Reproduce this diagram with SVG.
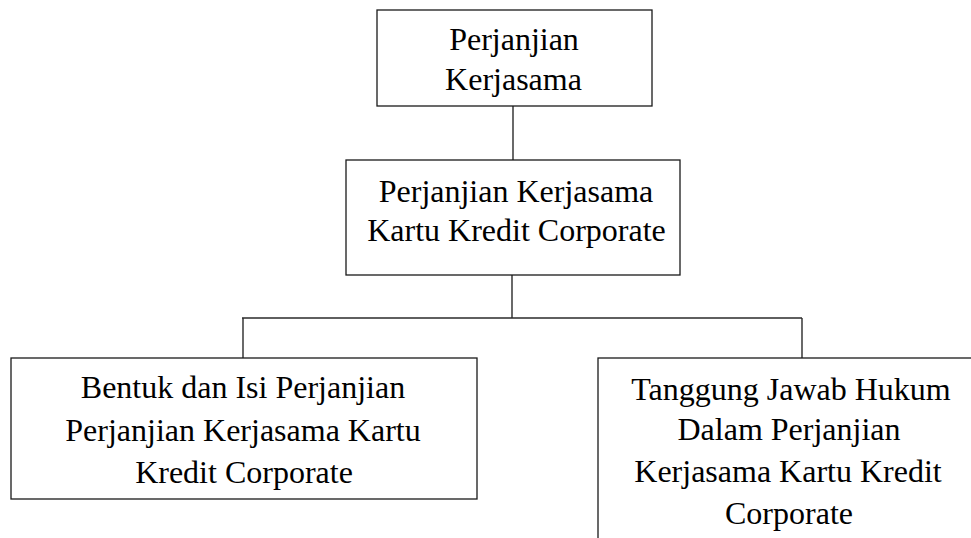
<svg xmlns="http://www.w3.org/2000/svg" width="971" height="538" viewBox="0 0 971 538">
<style>
.box{fill:#fff;stroke:#1a1a1a;stroke-width:1.3}
.ln{stroke:#2a2a2a;stroke-width:1.4;fill:none}
text{font-family:"Liberation Serif","Times New Roman",serif;font-size:32px;fill:#000;text-anchor:middle}
</style>
<rect width="971" height="538" fill="#fff"/>
<g id="connectors">
<line class="ln" x1="513" y1="106" x2="513" y2="160"/>
<line class="ln" x1="512" y1="275" x2="512" y2="318"/>
<line class="ln" x1="242" y1="318" x2="802" y2="318"/>
<line class="ln" x1="243" y1="318" x2="243" y2="358"/>
<line class="ln" x1="802" y1="318" x2="802" y2="358"/>
</g>
<g id="node-top">
<rect class="box" x="377" y="10" width="275" height="96"/>
<text x="514" y="50">Perjanjian</text>
<text x="513.5" y="90">Kerjasama</text>
</g>
<g id="node-mid">
<rect class="box" x="346" y="160" width="334" height="115"/>
<text x="516" y="202">Perjanjian Kerjasama</text>
<text x="516.5" y="241">Kartu Kredit Corporate</text>
</g>
<g id="node-left">
<rect class="box" x="11" y="358" width="466" height="141"/>
<text x="243" y="398">Bentuk dan Isi Perjanjian</text>
<text x="243" y="441">Perjanjian Kerjasama Kartu</text>
<text x="244" y="483">Kredit Corporate</text>
</g>
<g id="node-right">
<rect class="box" x="598" y="358" width="400" height="200"/>
<text x="791" y="400">Tanggung Jawab Hukum</text>
<text x="789" y="440">Dalam Perjanjian</text>
<text x="788" y="482">Kerjasama Kartu Kredit</text>
<text x="789" y="524">Corporate</text>
</g>
</svg>
